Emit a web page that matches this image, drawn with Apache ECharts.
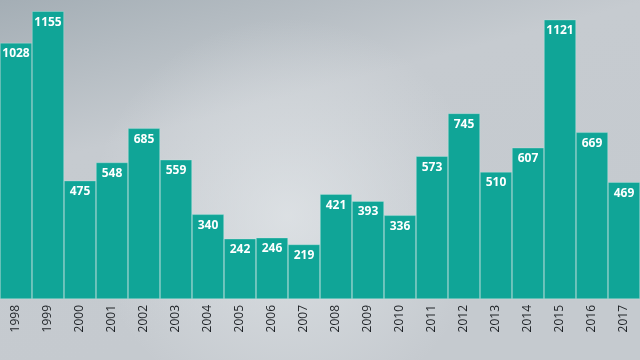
<!DOCTYPE html>
<html><head><meta charset="utf-8">
<script src="https://cdn.jsdelivr.net/npm/echarts@6/dist/echarts.min.js"></script>
<style>html,body{margin:0;padding:0;}#c{width:640px;height:360px;}</style>
</head><body><div id="c"></div>
<script>
const years = ['1998','1999','2000','2001','2002','2003','2004','2005','2006','2007','2008','2009','2010','2011','2012','2013','2014','2015','2016','2017'];
const values = [1028,1155,475,548,685,559,340,242,246,219,421,393,336,573,745,510,607,1121,669,469];

const chart = echarts.init(document.getElementById('c'));
chart.setOption({
  animation: false,
  backgroundColor: {
    type: 'linear', x: 0, y: 0, x2: 0.15, y2: 1,
    colorStops: [
      {offset: 0, color: '#a4aeb5'},
      {offset: 0.45, color: '#c6cbd0'},
      {offset: 1, color: '#c5cacf'}
    ]
  },
  graphic: [{
    type: 'rect', z: -1, silent: true,
    shape: {x: 0, y: 0, width: 640, height: 360},
    style: {fill: {
      type: 'radial', x: 0.45, y: 0.6, r: 0.55,
      colorStops: [
        {offset: 0, color: 'rgba(225,229,232,0.8)'},
        {offset: 1, color: 'rgba(225,229,232,0)'}
      ]
    }}
  }],
  grid: {left: 0, right: 0, top: 0, bottom: 61},
  xAxis: {
    type: 'category', data: years,
    axisLine: {show: false}, axisTick: {show: false},
    axisLabel: {rotate: 90, color: '#1e2226', fontSize: 12, fontFamily: 'Open Sans', margin: 6}
  },
  yAxis: {type: 'value', min: 0, max: 1200, show: false, splitLine: {show: false}},
  series: [{
    type: 'bar', data: values, barCategoryGap: 0, z: 5,
    itemStyle: {color: '#10a597', borderColor: 'rgba(200,240,235,0.55)', borderWidth: 0.6},
    label: {show: true, position: 'insideTop', distance: 5, color: '#ffffff', fontWeight: 'bold', fontSize: 12, fontFamily: 'Open Sans'}
  }]
});
</script></body></html>
